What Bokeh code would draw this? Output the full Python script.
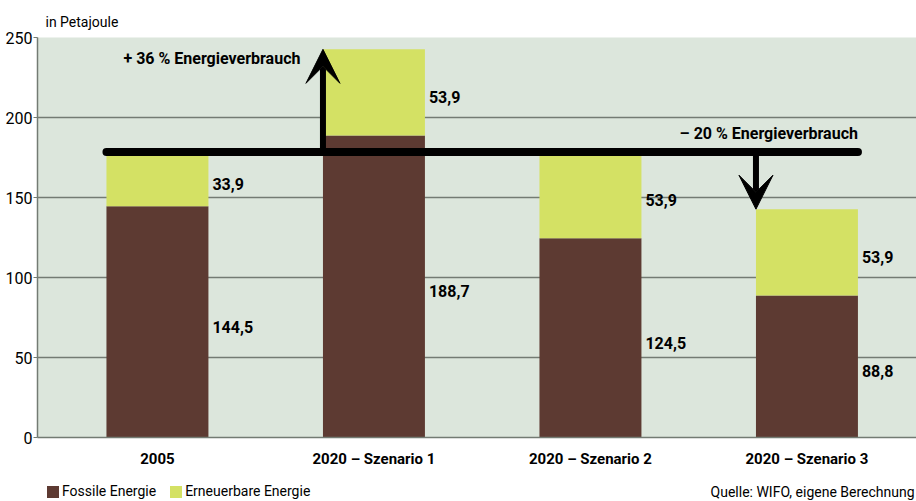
from bokeh.plotting import figure
from bokeh.models import (ColumnDataSource, FixedTicker, Label, Arrow, VeeHead,
                          Legend, LegendItem, Range1d, Title)
from bokeh.layouts import column
from bokeh.core.properties import value
from bokeh.embed import file_html
from bokeh.resources import INLINE

# ---- data ----
categories = ["2005", "2020 – Szenario 1", "2020 – Szenario 2", "2020 – Szenario 3"]
fossil = [144.5, 188.7, 124.5, 88.8]
renewable = [33.9, 53.9, 53.9, 53.9]
fossil_labels = ["144,5", "188,7", "124,5", "88,8"]
renewable_labels = ["33,9", "53,9", "53,9", "53,9"]
y_ticks = [0, 50, 100, 150, 200, 250]
up_text = "+ 36 % Energieverbrauch"
down_text = "– 20 % Energieverbrauch"
unit_text = "in Petajoule"
source_text = "Quelle: WIFO, eigene Berechnung"
series_names = ["Fossile Energie", "Erneuerbare Energie"]

# ---- styles ----
FONT = "Roboto"
BROWN = "#5d3a32"
GREEN = "#d4e164"
BG = "#dce6dc"
GRID = "#737b73"
BAR_W = 0.471

xs = list(range(len(categories)))
totals = [f + r for f, r in zip(fossil, renewable)]
src = ColumnDataSource(dict(
    x=xs, fossil=fossil, total=totals,
    fmid=[f / 2 - 3 for f in fossil],
    rmid=[f + r / 2 - 3 for f, r in zip(fossil, renewable)],
    xr=[x + BAR_W / 2 for x in xs],
    flab=fossil_labels, rlab=renewable_labels,
))

p = figure(frame_width=879, frame_height=400, output_backend="svg", toolbar_location=None,
           x_range=Range1d(-0.554, 3.506), y_range=Range1d(0, 250),
           min_border_left=37, min_border_right=0, min_border_top=37, min_border_bottom=39,
           border_fill_color="white")
p.outline_line_color = None
p.background_fill_color = BG

p.title = Title(text=unit_text, align="left", offset=8, standoff=15,
                text_font=FONT, text_font_size="14px", text_font_style="normal", text_color="black")

# bars
p.vbar(x="x", bottom=0, top="fossil", width=BAR_W, source=src, color=BROWN, line_color=None)
p.vbar(x="x", bottom="fossil", top="total", width=BAR_W, source=src, color=GREEN, line_color=None)

# value labels
p.text(x="xr", y="rmid", text="rlab", source=src, x_offset=4, text_baseline="middle",
       text_font=value(FONT), text_font_style="bold", text_font_size="16px", text_color="black")
p.text(x="xr", y="fmid", text="flab", source=src, x_offset=4, text_baseline="middle",
       text_font=value(FONT), text_font_style="bold", text_font_size="16px", text_color="black")

# reference line at 2005 level
level = totals[0]
x_left = xs[0] - BAR_W / 2
x_right = xs[-1] + BAR_W / 2
p.line([x_left, x_right], [level, level], line_color="black", line_width=8, line_cap="round")

# arrows
for i in (1, 3):
    p.add_layout(Arrow(x_start=xs[i] - BAR_W / 2, y_start=level, x_end=xs[i] - BAR_W / 2, y_end=totals[i],
                       line_color="black", line_width=6,
                       end=VeeHead(size=34, fill_color="black", line_color="black")))

p.add_layout(Label(x=0.6605, y=236.9, text=up_text, text_align="right", text_baseline="middle",
                   text_font=FONT, text_font_style="bold", text_font_size="16px", text_color="black"))
p.add_layout(Label(x=x_right, y=190, text=down_text, text_align="right", text_baseline="middle",
                   text_font=FONT, text_font_style="bold", text_font_size="16px", text_color="black"))

# grid
p.xgrid.grid_line_color = None
p.ygrid.grid_line_color = GRID
p.ygrid.grid_line_width = 1.5
p.ygrid.ticker = FixedTicker(ticks=y_ticks)

# axes
p.yaxis.ticker = FixedTicker(ticks=y_ticks)
p.yaxis.axis_line_color = GRID
p.yaxis.axis_line_width = 1.5
p.yaxis.major_tick_line_color = GRID
p.yaxis.major_tick_in = 0
p.yaxis.major_tick_out = 4
p.yaxis.minor_tick_line_color = None
p.yaxis.major_label_standoff = 1
p.yaxis.major_label_text_font = FONT
p.yaxis.major_label_text_font_size = "16px"
p.yaxis.major_label_text_color = "black"

p.xaxis.ticker = FixedTicker(ticks=xs)
p.xaxis.major_label_overrides = {i: c for i, c in enumerate(categories)}
p.xaxis.axis_line_color = GRID
p.xaxis.axis_line_width = 1.5
p.xaxis.major_tick_line_color = None
p.xaxis.minor_tick_line_color = None
p.xaxis.major_label_standoff = 6
p.xaxis.major_label_text_font = FONT
p.xaxis.major_label_text_font_style = "bold"
p.xaxis.major_label_text_font_size = "15px"
p.xaxis.major_label_text_color = "black"

# bottom strip: legend and source
p2 = figure(width=916, height=25, output_backend="svg", toolbar_location=None,
            x_range=Range1d(0, 916), y_range=Range1d(0, 25),
            x_axis_type=None, y_axis_type=None, min_border=0,
            border_fill_color="white", background_fill_color="white")
p2.outline_line_color = None
p2.xgrid.grid_line_color = None
p2.ygrid.grid_line_color = None
lg = p2.vbar(x=[-10], top=[-10], width=1, color=BROWN, line_color=None)
lr = p2.vbar(x=[-10], top=[-10], width=1, color=GREEN, line_color=None)
legend = Legend(items=[LegendItem(label=series_names[0], renderers=[lg]),
                       LegendItem(label=series_names[1], renderers=[lr])],
                orientation="horizontal", location=(8, 2),
                glyph_width=15, glyph_height=15, label_height=15, label_standoff=2,
                spacing=12, padding=0, margin=0,
                background_fill_alpha=0, border_line_alpha=0,
                label_text_font=FONT, label_text_font_size="14px", label_text_color="black")
p2.add_layout(legend)
p2.add_layout(Label(x=914, y=10, text=source_text, text_align="right", text_baseline="middle",
                    text_font=FONT, text_font_size="14px", text_color="black"))

layout = column(p, p2, spacing=0)
open("out.html", "w").write(file_html(layout, INLINE))
